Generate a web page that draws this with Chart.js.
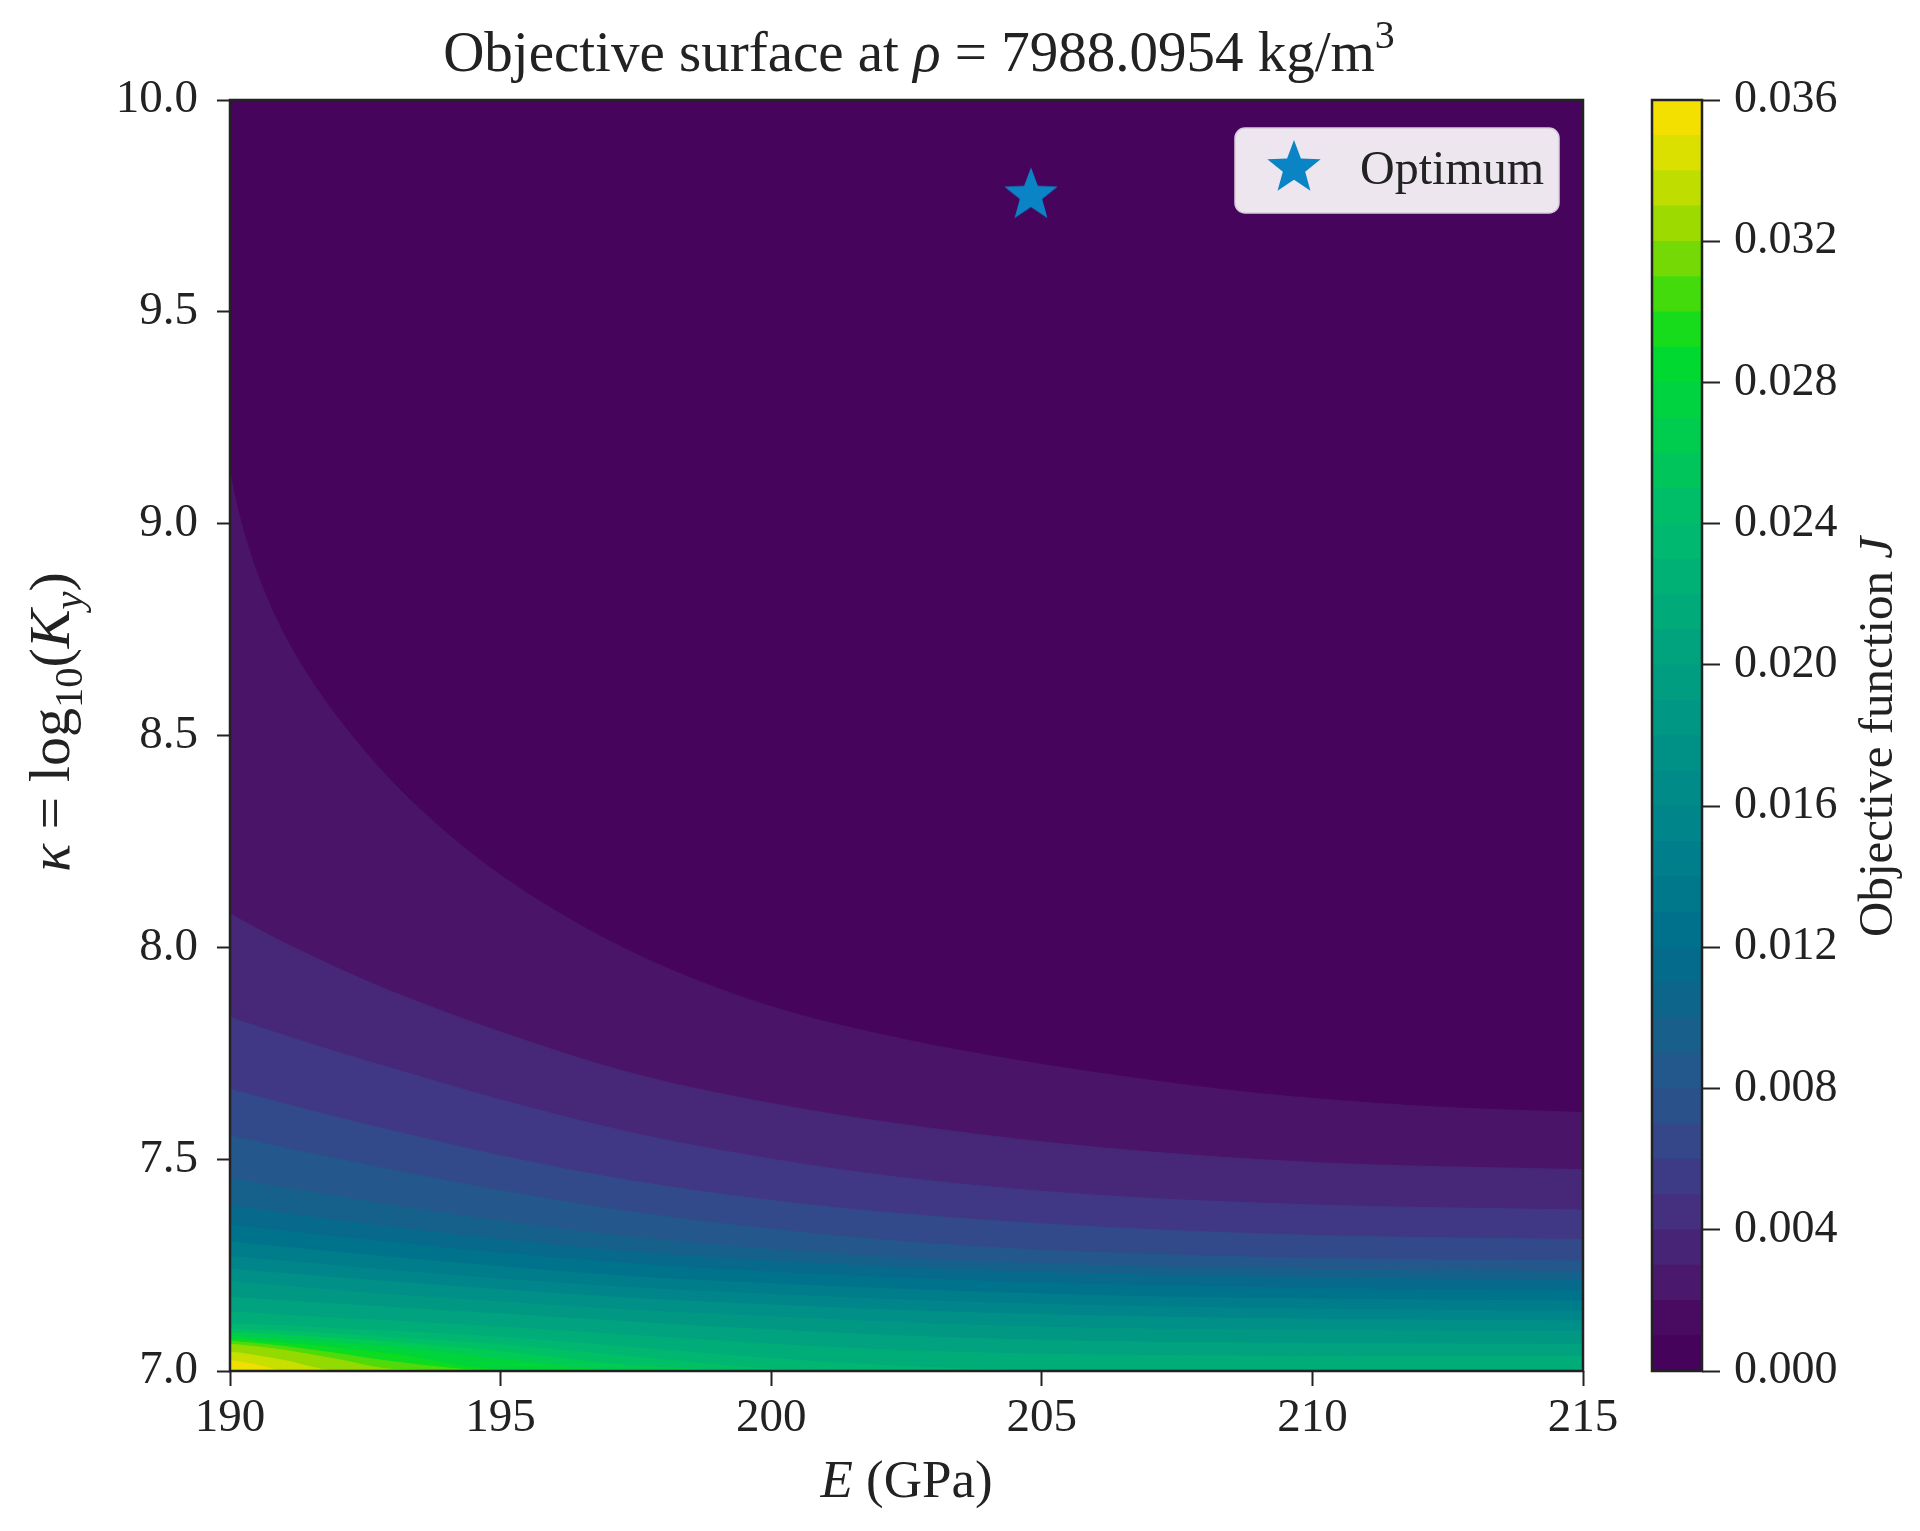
<!DOCTYPE html>
<html>
<head>
<meta charset="utf-8">
<title>Objective surface</title>
<script src="https://cdn.jsdelivr.net/npm/chart.js@4.4.1/dist/chart.umd.min.js"></script>
<style>
  html, body { margin: 0; padding: 0; background: #fff; }
  #wrap { position: relative; width: 1920px; height: 1531px; overflow: hidden; }
  #surface { position: absolute; left: 0; top: 0; }
  #cbar { position: absolute; left: 1600px; top: 0; }
</style>
</head>
<body>
<div id="wrap">
  <canvas id="surface" width="1650" height="1531"></canvas>
  <canvas id="cbar" width="320" height="1531"></canvas>
</div>
<script>
// ================================================================ data
// E (GPa) positions where the contour boundaries were read
const eGrid = [190, 190.2, 190.5, 191, 192, 193, 195, 197.5, 200.5, 203, 206, 210, 215];
// the first (steep) boundary was read on a finer set of E
const eGridTop = [190, 190.15, 190.4, 190.8, 191.3, 192, 193, 194, 195, 196.5, 198, 200, 202, 204, 206.5, 209, 212, 215];

// J value of each contour boundary (top boundary first)
const levels = [0.0015, 0.003, 0.0045, 0.006, 0.0075, 0.009, 0.0105, 0.012, 0.0135, 0.015, 0.0165, 0.018,
                0.0195, 0.021, 0.0225, 0.024, 0.0255, 0.027, 0.0285, 0.030, 0.0315, 0.033, 0.0345];
const jMax = 0.036;

// kappa of every boundary (kappa01 on eGridTop, the rest on eGrid)
const kappa01 = [9.12, 9.03, 8.92, 8.79, 8.67, 8.54, 8.39, 8.27, 8.17, 8.05, 7.955, 7.86, 7.795, 7.745, 7.695, 7.655, 7.625, 7.61];
const kappa02 = [8.08, 8.065, 8.044, 8.011, 7.95, 7.895, 7.80, 7.70, 7.62, 7.572, 7.528, 7.492, 7.475];
const kappa03 = [7.835, 7.826, 7.813, 7.792, 7.752, 7.714, 7.64, 7.56, 7.49, 7.448, 7.415, 7.392, 7.38];
const kappa04 = [7.665, 7.658, 7.648, 7.631, 7.598, 7.567, 7.508, 7.447, 7.395, 7.365, 7.34, 7.32, 7.31];
const kappa05 = [7.555, 7.549, 7.541, 7.527, 7.50, 7.474, 7.426, 7.374, 7.328, 7.30, 7.28, 7.266, 7.26];
const kappa06 = [7.455, 7.45, 7.443, 7.432, 7.411, 7.391, 7.354, 7.315, 7.282, 7.263, 7.249, 7.24, 7.235];
const kappa07 = [7.39, 7.386, 7.381, 7.372, 7.355, 7.339, 7.31, 7.28, 7.256, 7.241, 7.229, 7.22, 7.215];
const kappa08 = [7.345, 7.342, 7.337, 7.33, 7.316, 7.303, 7.278, 7.252, 7.23, 7.216, 7.204, 7.195, 7.19];
const kappa09 = [7.305, 7.302, 7.298, 7.292, 7.28, 7.268, 7.246, 7.222, 7.203, 7.19, 7.178, 7.17, 7.165];
const kappa10 = [7.27, 7.268, 7.264, 7.259, 7.248, 7.237, 7.217, 7.196, 7.178, 7.165, 7.154, 7.146, 7.141];
const kappa11 = [7.24, 7.238, 7.235, 7.23, 7.22, 7.21, 7.192, 7.171, 7.153, 7.14, 7.13, 7.122, 7.118];
const kappa12 = [7.21, 7.208, 7.205, 7.20, 7.19, 7.18, 7.163, 7.143, 7.125, 7.111, 7.101, 7.096, 7.093];
const kappa13 = [7.175, 7.173, 7.17, 7.166, 7.158, 7.15, 7.135, 7.115, 7.094, 7.08, 7.07, 7.065, 7.063];
const kappa14 = [7.14, 7.138, 7.136, 7.132, 7.125, 7.118, 7.104, 7.084, 7.06, 7.046, 7.038, 7.035, 7.034];
const kappa15 = [7.11, 7.11, 7.109, 7.107, 7.10, 7.094, 7.08, 7.055, 7.025, 7.008, 7.0, 7.0, 7.0];
const kappa16 = [7.098, 7.098, 7.097, 7.094, 7.087, 7.079, 7.062, 7.033, 7.002, 7.0, 7.0, 7.0, 7.0];
const kappa17 = [7.09, 7.09, 7.088, 7.085, 7.077, 7.068, 7.046, 7.012, 7.0, 7.0, 7.0, 7.0, 7.0];
const kappa18 = [7.082, 7.081, 7.079, 7.075, 7.066, 7.056, 7.028, 7.0, 7.0, 7.0, 7.0, 7.0, 7.0];
const kappa19 = [7.075, 7.074, 7.071, 7.066, 7.054, 7.04, 7.003, 7.0, 7.0, 7.0, 7.0, 7.0, 7.0];
const kappa20 = [7.07, 7.068, 7.065, 7.058, 7.041, 7.022, 7.0, 7.0, 7.0, 7.0, 7.0, 7.0, 7.0];
const kappa21 = [7.063, 7.061, 7.057, 7.049, 7.027, 7.004, 7.0, 7.0, 7.0, 7.0, 7.0, 7.0, 7.0];
const kappa22 = [7.045, 7.042, 7.036, 7.025, 7.0, 7.0, 7.0, 7.0, 7.0, 7.0, 7.0, 7.0, 7.0];
const kappa23 = [7.025, 7.021, 7.014, 7.0, 7.0, 7.0, 7.0, 7.0, 7.0, 7.0, 7.0, 7.0, 7.0];

const optimumE = 204.8;
const optimumKappa = 9.775;

const xTicks = [190, 195, 200, 205, 210, 215];
const yTicks = [7.0, 7.5, 8.0, 8.5, 9.0, 9.5, 10.0];
const cbarTicks = [0.000, 0.004, 0.008, 0.012, 0.016, 0.020, 0.024, 0.028, 0.032, 0.036];
const cbarEdges = [0.000, 0.001, 0.002, 0.003, 0.004, 0.005, 0.006, 0.007, 0.008, 0.009, 0.010, 0.011, 0.012,
                   0.013, 0.014, 0.015, 0.016, 0.017, 0.018, 0.019, 0.020, 0.021, 0.022, 0.023, 0.024, 0.025,
                   0.026, 0.027, 0.028, 0.029, 0.030, 0.031, 0.032, 0.033, 0.034, 0.035, 0.036];

const boundaries = [kappa01, kappa02, kappa03, kappa04, kappa05, kappa06, kappa07, kappa08, kappa09, kappa10,
                    kappa11, kappa12, kappa13, kappa14, kappa15, kappa16, kappa17, kappa18, kappa19, kappa20,
                    kappa21, kappa22, kappa23];

// ================================================================ colours
// viridis-like map, matched to the colour bar of the figure
const cmapStops = [
  [0.000, '#45005a'], [0.030, '#47065d'], [0.060, '#4a1468'], [0.100, '#482577'],
  [0.150, '#3f3a86'], [0.200, '#2e4f8a'], [0.250, '#1d5c8c'], [0.333, '#006e8c'],
  [0.444, '#00888a'], [0.556, '#00a080'], [0.667, '#00bb6e'], [0.750, '#00d048'],
  [0.806, '#00dc26'], [0.833, '#2cdc10'], [0.889, '#8cd800'], [0.944, '#d0e000'],
  [1.000, '#ffe000']
];

function hexRgb(h) {
  return [parseInt(h.slice(1, 3), 16), parseInt(h.slice(3, 5), 16), parseInt(h.slice(5, 7), 16)];
}
function cmap(t) {
  t = Math.min(1, Math.max(0, t));
  for (let i = 1; i < cmapStops.length; i++) {
    if (t <= cmapStops[i][0]) {
      const [t0, c0] = cmapStops[i - 1], [t1, c1] = cmapStops[i];
      const f = (t - t0) / (t1 - t0);
      const a = hexRgb(c0), b = hexRgb(c1);
      return 'rgb(' + a.map((v, k) => Math.round(v + (b[k] - v) * f)).join(',') + ')';
    }
  }
  return cmapStops[cmapStops.length - 1][1];
}

const topBandColor = cmap(levels[0] / 2 / jMax);
function bandColor(i) {
  // band just below boundary i
  const lo = levels[i], hi = i + 1 < levels.length ? levels[i + 1] : jMax;
  return cmap((lo + hi) / 2 / jMax);
}

// ================================================================ helpers
const SERIF = '"Liberation Serif", "Times New Roman", serif';
const INK = '#222';

function makeStar(R, color) {
  const c = document.createElement('canvas');
  const s = Math.ceil(2 * R + 4);
  c.width = s; c.height = s;
  const g = c.getContext('2d');
  g.translate(s / 2, s / 2);
  g.beginPath();
  for (let i = 0; i < 10; i++) {
    const r = i % 2 ? R * 0.42 : R;
    const a = -Math.PI / 2 + i * Math.PI / 5;
    g.lineTo(r * Math.cos(a), r * Math.sin(a));
  }
  g.closePath();
  g.fillStyle = color;
  g.fill();
  return c;
}
const starImg = makeStar(28, '#0b84c6');

// text with italic / sub / sup pieces, centred on (x, y)
function drawRich(ctx, parts, x, y, size, rot) {
  ctx.save();
  ctx.translate(x, y);
  ctx.rotate(rot || 0);
  let w = 0;
  const m = parts.map(p => {
    const s = (p.sub || p.sup) ? size * 0.7 : size;
    const f = (p.it ? 'italic ' : '') + s + 'px ' + SERIF;
    ctx.font = f;
    const pw = ctx.measureText(p.t).width;
    w += pw;
    return { f, pw };
  });
  let cx = -w / 2;
  ctx.fillStyle = INK;
  ctx.textBaseline = 'alphabetic';
  ctx.textAlign = 'left';
  parts.forEach((p, i) => {
    ctx.font = m[i].f;
    const dy = p.sub ? size * 0.22 : p.sup ? -size * 0.4 : 0;
    ctx.fillText(p.t, cx, size * 0.33 + dy);
    cx += m[i].pw;
  });
  ctx.restore();
}

// ================================================================ surface
const surfaceDecor = {
  id: 'surfaceDecor',
  beforeDatasetsDraw(chart) {
    const a = chart.chartArea, ctx = chart.ctx;
    ctx.save();
    ctx.fillStyle = topBandColor;
    ctx.fillRect(a.left, a.top, a.width, a.height);
    ctx.restore();
  },
  afterDatasetsDraw(chart) {
    const a = chart.chartArea, ctx = chart.ctx;
    ctx.save();
    ctx.strokeStyle = INK;
    ctx.lineWidth = 2.5;
    ctx.strokeRect(a.left, a.top, a.width, a.height);
    ctx.restore();
  },
  afterDraw(chart) {
    const ctx = chart.ctx, a = chart.chartArea;
    // legend
    const lx = a.right - 348, ly = a.top + 28, lw = 324, lh = 85;
    ctx.save();
    ctx.beginPath();
    ctx.roundRect(lx, ly, lw, lh, 10);
    ctx.fillStyle = 'rgba(255,255,255,0.9)';
    ctx.fill();
    ctx.strokeStyle = 'rgba(215,205,220,1)';
    ctx.lineWidth = 1.5;
    ctx.stroke();
    ctx.drawImage(starImg, lx + 59 - starImg.width / 2, ly + 40 - starImg.height / 2);
    ctx.fillStyle = INK;
    ctx.font = '48px ' + SERIF;
    ctx.textBaseline = 'middle';
    ctx.fillText('Optimum', lx + 125, ly + 43);
    ctx.restore();
    // titles
    drawRich(ctx, [{ t: 'Objective surface at ' }, { t: 'ρ', it: true }, { t: ' = 7988.0954 kg/m' }, { t: '3', sup: true }],
      919, 52, 57);
    drawRich(ctx, [{ t: 'E', it: true }, { t: ' (GPa)' }], (a.left + a.right) / 2, 1480, 53);
    drawRich(ctx, [{ t: 'κ', it: true }, { t: ' = log' }, { t: '10', sub: true }, { t: '(' }, { t: 'K', it: true },
      { t: 'y', it: true, sub: true }, { t: ')' }], 50, 722, 58, -Math.PI / 2);
  }
};

const surfaceSets = boundaries.map((kap, i) => {
  const es = i === 0 ? eGridTop : eGrid;
  return {
    type: 'line',
    data: es.map((e, j) => ({ x: e, y: kap[j] })),
    fill: 'start',
    backgroundColor: bandColor(i),
    borderColor: bandColor(i),
    borderWidth: 1,
    pointRadius: 0,
    cubicInterpolationMode: 'monotone',
    tension: 0.4,
    order: 100 - i
  };
});
surfaceSets.push({
  type: 'line',
  data: [{ x: optimumE, y: optimumKappa }],
  showLine: false,
  fill: false,
  pointStyle: starImg,
  pointRadius: 20,
  order: 0
});

new Chart(document.getElementById('surface'), {
  type: 'line',
  data: { datasets: surfaceSets },
  options: {
    responsive: false,
    devicePixelRatio: 1,
    animation: false,
    layout: { padding: { top: 100, left: 100, right: 67, bottom: 0 } },
    plugins: { legend: { display: false }, tooltip: { enabled: false } },
    scales: {
      x: {
        type: 'linear', min: 190, max: 215,
        afterFit: s => { s.height = 160; },
        afterBuildTicks: s => { s.ticks = xTicks.map(v => ({ value: v })); },
        border: { display: false },
        grid: { drawOnChartArea: false, tickLength: 15, tickWidth: 2, tickColor: INK },
        ticks: { color: INK, font: { family: SERIF, size: 47 }, padding: 4, maxRotation: 0,
                 callback: v => String(v) }
      },
      y: {
        type: 'linear', min: 7, max: 10,
        afterFit: s => { s.width = 130; },
        afterBuildTicks: s => { s.ticks = yTicks.map(v => ({ value: v })); },
        border: { display: false },
        grid: { drawOnChartArea: false, tickLength: 13, tickWidth: 2, tickColor: INK },
        ticks: { color: INK, font: { family: SERIF, size: 47 }, padding: 19,
                 callback: v => Number(v).toFixed(1) }
      }
    }
  },
  plugins: [surfaceDecor]
});

// ================================================================ colour bar
const cbarDecor = {
  id: 'cbarDecor',
  afterDatasetsDraw(chart) {
    const a = chart.chartArea, ctx = chart.ctx;
    ctx.save();
    ctx.strokeStyle = INK;
    ctx.lineWidth = 2.5;
    ctx.strokeRect(a.left, a.top, a.width, a.height);
    ctx.restore();
  },
  afterDraw(chart) {
    drawRich(chart.ctx, [{ t: 'Objective function ' }, { t: 'J', it: true }], 276, 737, 49, -Math.PI / 2);
  }
};

const cbarSets = cbarEdges.slice(1).map((hi, i) => ({
  data: [hi],
  backgroundColor: cmap((cbarEdges[i] + hi) / 2 / jMax),
  borderWidth: 0,
  barPercentage: 1,
  categoryPercentage: 1,
  grouped: false,
  order: i
}));

new Chart(document.getElementById('cbar'), {
  type: 'bar',
  data: { labels: [''], datasets: cbarSets },
  options: {
    responsive: false,
    devicePixelRatio: 1,
    animation: false,
    layout: { padding: { top: 100, left: 52, right: 0, bottom: 160 } },
    plugins: { legend: { display: false }, tooltip: { enabled: false } },
    scales: {
      x: { display: false },
      y: {
        position: 'right', min: 0, max: jMax,
        afterFit: s => { s.width = 218; },
        afterBuildTicks: s => { s.ticks = cbarTicks.map(v => ({ value: v })); },
        border: { display: false },
        grid: { drawOnChartArea: false, tickLength: 18, tickWidth: 2, tickColor: INK },
        ticks: { color: INK, font: { family: SERIF, size: 46 }, padding: 14,
                 callback: v => Number(v).toFixed(3) }
      }
    }
  },
  plugins: [cbarDecor]
});
</script>
</body>
</html>
